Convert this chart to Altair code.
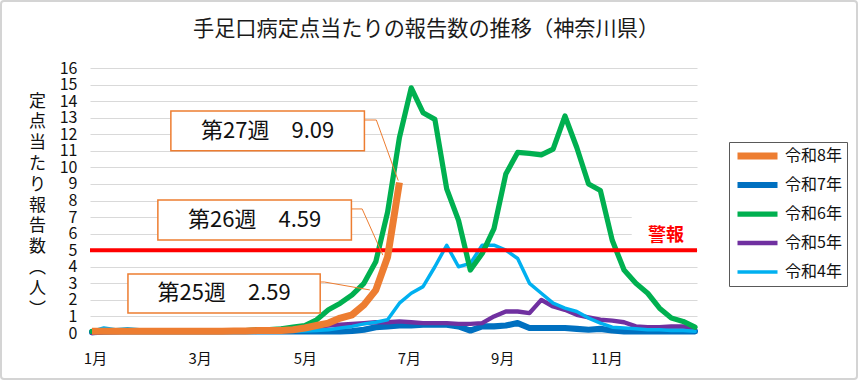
import altair as alt
import pandas as pd

FONT = "Noto Sans CJK JP"

title_text = "手足口病定点当たりの報告数の推移（神奈川県）"
y_title = list("定点当たり報告数") + ["︵", "人", "︶"]

weeks = list(range(1, 53))
series_names = ["令和8年", "令和7年", "令和6年", "令和5年", "令和4年"]
colors = ["#ED7D31", "#0070C0", "#00B050", "#7030A0", "#00B0F0"]
widths = [7, 3.5, 3.5, 3.5, 3.5]

r8 = [0.1, 0.1, 0.1, 0.1, 0.1, 0.1, 0.1, 0.1, 0.1, 0.1, 0.1, 0.1, 0.12, 0.12, 0.15, 0.15,
      0.15, 0.2, 0.3, 0.45, 0.6, 0.9, 1.1, 1.7, 2.59, 4.59, 9.09]
r7 = [0.05, 0.08, 0.1, 0.1, 0.1, 0.1, 0.1, 0.1, 0.1, 0.1, 0.1, 0.1, 0.1, 0.1, 0.1, 0.1,
      0.1, 0.1, 0.1, 0.1, 0.1, 0.1, 0.12, 0.2, 0.35, 0.4, 0.45, 0.45, 0.5, 0.5, 0.5, 0.4,
      0.15, 0.4, 0.4, 0.45, 0.6, 0.3, 0.3, 0.3, 0.3, 0.25, 0.2, 0.25, 0.15, 0.1, 0.1, 0.1,
      0.1, 0.1, 0.1, 0.1]
r6 = [0.1, 0.12, 0.12, 0.1, 0.1, 0.1, 0.1, 0.1, 0.1, 0.1, 0.12, 0.12, 0.15, 0.15, 0.2, 0.2,
      0.25, 0.35, 0.45, 0.8, 1.4, 1.8, 2.3, 3.0, 4.3, 7.3, 11.8, 14.8, 13.3, 12.9, 8.7, 6.8,
      3.8, 4.8, 6.3, 9.6, 10.9, 10.85, 10.75, 11.1, 13.1, 11.2, 9.0, 8.6, 5.6, 3.8, 3.0, 2.4,
      1.5, 0.9, 0.7, 0.35]
r5 = [0.0, 0.05, 0.05, 0.08, 0.1, 0.1, 0.1, 0.1, 0.1, 0.1, 0.1, 0.1, 0.12, 0.15, 0.18, 0.2,
      0.25, 0.3, 0.35, 0.4, 0.45, 0.5, 0.55, 0.6, 0.65, 0.65, 0.7, 0.65, 0.6, 0.6, 0.6, 0.55,
      0.55, 0.6, 1.0, 1.3, 1.3, 1.2, 2.0, 1.6, 1.4, 1.1, 0.95, 0.8, 0.75, 0.65, 0.4, 0.35,
      0.35, 0.4, 0.4, 0.3]
r4 = [0.1, 0.3, 0.2, 0.25, 0.2, 0.15, 0.12, 0.1, 0.1, 0.1, 0.1, 0.1, 0.1, 0.1, 0.1, 0.1,
      0.1, 0.1, 0.12, 0.15, 0.2, 0.3, 0.4, 0.55, 0.65, 0.8, 1.8, 2.4, 2.8, 4.0, 5.3, 4.0,
      4.2, 5.3, 5.3, 5.0, 4.5, 3.0, 2.4, 1.8, 1.5, 1.3, 0.9, 0.6, 0.35, 0.3, 0.25, 0.2,
      0.2, 0.15, 0.15, 0.1]

month_pos = [1.25, 10.1, 19.0, 27.8, 35.7, 44.5]
month_labels = ["1月", "3月", "5月", "7月", "9月", "11月"]

alarm_level = 5
alarm_text = "警報"

# callout boxes (week / value units)
box_x1 = [7.67, 6.57, 4.04]
box_x2 = [24.04, 22.94, 20.3]
box_y1 = [11.0, 5.62, 1.21]
box_y2 = [13.4, 8.03, 3.56]
box_text = ["第27週　9.09", "第26週　4.59", "第25週　2.59"]

# leader lines
lead_id = ["a", "a", "a", "b", "b", "b", "c", "c", "c"]
lead_x = [24.04, 25.05, 26.9, 22.94, 23.85, 25.6, 20.3, 20.65, 24.5]
lead_y = [12.86, 12.86, 9.2, 7.49, 7.49, 4.7, 3.08, 3.08, 2.6]
lead_ord = [0, 1, 2, 0, 1, 2, 0, 1, 2]

# ---------------------------------------------------------------
W, H = 607, 265
PAD_L, PAD_T = 90, 68

all_vals = {"令和8年": r8, "令和7年": r7, "令和6年": r6, "令和5年": r5, "令和4年": r4}
rows = []
for name, vals in all_vals.items():
    for i, v in enumerate(vals):
        rows.append({"week": weeks[i], "value": v, "series": name})
df = pd.DataFrame(rows)

one = pd.DataFrame({"title": [title_text], "alarm": [alarm_text]})

boxes = pd.DataFrame({"x1": box_x1, "x2": box_x2, "y1": box_y1, "y2": box_y2,
                      "t": box_text,
                      "xc": [(a + b) / 2 for a, b in zip(box_x1, box_x2)],
                      "yc": [(a + b) / 2 for a, b in zip(box_y1, box_y2)]})
leads = pd.DataFrame({"id": lead_id, "x": lead_x, "y": lead_y, "o": lead_ord})

xs = alt.Scale(domain=[0.83, 52.17], nice=False, zero=False)
ys = alt.Scale(domain=[0, 16], nice=False)

cond = "''"
for p, lab in reversed(list(zip(month_pos, month_labels))):
    cond = f"abs(datum.value - {p}) < 0.5 ? '{lab}' : " + cond
xaxis = alt.Axis(values=month_pos, labelExpr=cond, grid=False, domain=False, ticks=False,
                 labelFontSize=15, labelPadding=18, labelFont=FONT, labelColor="#111",
                 title=None)
yaxis = alt.Axis(values=list(range(0, 17)), grid=True, gridColor="#D9D9D9", gridWidth=1,
                 domain=False, ticks=False, labelFontSize=16, labelPadding=13,
                 labelFont=FONT, labelColor="#111",
                 title=y_title, titleAngle=0, titleFontSize=17, titleFont=FONT,
                 titleFontWeight="normal", titleColor="#111", titleLineHeight=20.8,
                 titleX=-53, titleY=25, titleAlign="center", titleBaseline="top")


def X(field):
    return alt.X(field, type="quantitative", scale=xs, axis=xaxis)


def Y(field):
    return alt.Y(field, type="quantitative", scale=ys, axis=yaxis)


leg = alt.Legend(title=None, orient="none", legendX=639, legendY=74, symbolType="stroke",
                 symbolSize=1600, clipHeight=18, labelFontSize=16, labelFont=FONT,
                 labelColor="#111", strokeColor="#595959", padding=5, rowPadding=11,
                 labelOffset=4, fillColor="white")

color = alt.Color("series:N", scale=alt.Scale(domain=series_names, range=colors), legend=leg)
swidth = alt.StrokeWidth("series:N", scale=alt.Scale(domain=series_names, range=widths),
                         legend=leg)

frame = alt.Chart(one).mark_rect(fill=None, stroke="#D4D4D4", strokeWidth=2, cornerRadius=3).encode(
    x=alt.value(-PAD_L + 1), x2=alt.value(858 - PAD_L - 1),
    y=alt.value(-PAD_T + 1), y2=alt.value(380 - PAD_T - 1))

title_layer = alt.Chart(one).mark_text(fontSize=21.2, font=FONT, fontWeight="normal",
                                       color="#1a1a1a", align="center",
                                       baseline="middle").encode(
    x=alt.value(426 - PAD_L), y=alt.value(30 - PAD_T), text="title:N")

whitebg = alt.Chart(one).mark_rect(fill="white").encode(
    x=alt.X(datum=46.65, type="quantitative", scale=xs, axis=xaxis),
    x2=alt.X2(datum=52.3),
    y=alt.Y(datum=5.45, type="quantitative", scale=ys, axis=yaxis),
    y2=alt.Y2(datum=7.45))

layers = [frame, title_layer, whitebg]
for name in ["令和7年", "令和5年", "令和4年", "令和6年"]:
    layers.append(alt.Chart(df).transform_filter(alt.datum.series == name).mark_line(
        strokeJoin="round", strokeCap="round").encode(
        x=X("week"), y=Y("value"), color=color, strokeWidth=swidth))

alarm = alt.Chart(one).mark_rule(color="#FF0000", strokeWidth=4).encode(
    y=alt.Y(datum=alarm_level, type="quantitative", scale=ys, axis=yaxis))
layers.append(alarm)

layers.append(alt.Chart(df).transform_filter(alt.datum.series == "令和8年").mark_line(
    strokeJoin="round", strokeCap="butt").encode(
    x=X("week"), y=Y("value"), color=color, strokeWidth=swidth))

lead_layer = alt.Chart(leads).mark_line(color="#ED7D31", strokeWidth=1).encode(
    x=X("x"), y=Y("y"), detail="id:N", order="o:Q")
box_layer = alt.Chart(boxes).mark_rect(fill="white", stroke="#ED7D31", strokeWidth=1.5).encode(
    x=X("x1"), x2="x2", y=Y("y1"), y2="y2")
box_text_layer = alt.Chart(boxes).mark_text(fontSize=22, font=FONT, color="#111",
                                            align="center", baseline="middle").encode(
    x=X("xc"), y=Y("yc"), text="t:N")
alarm_text_layer = alt.Chart(one).mark_text(fontSize=18, font=FONT, fontWeight="bold",
                                            color="#FF0000", align="center",
                                            baseline="middle").encode(
    x=alt.X(datum=49.55, type="quantitative", scale=xs, axis=xaxis),
    y=alt.Y(datum=5.85, type="quantitative", scale=ys, axis=yaxis),
    text="alarm:N")

layers += [lead_layer, box_layer, box_text_layer, alarm_text_layer]

chart = alt.layer(*layers).properties(
    width=W, height=H,
    autosize=alt.AutoSizeParams(type="none"),
    padding={"left": PAD_L, "top": PAD_T, "right": 858 - PAD_L - W, "bottom": 380 - PAD_T - H},
    background="white",
).configure_view(stroke=None)

chart.save("out.html", embed_options={"renderer": "svg", "actions": False})
